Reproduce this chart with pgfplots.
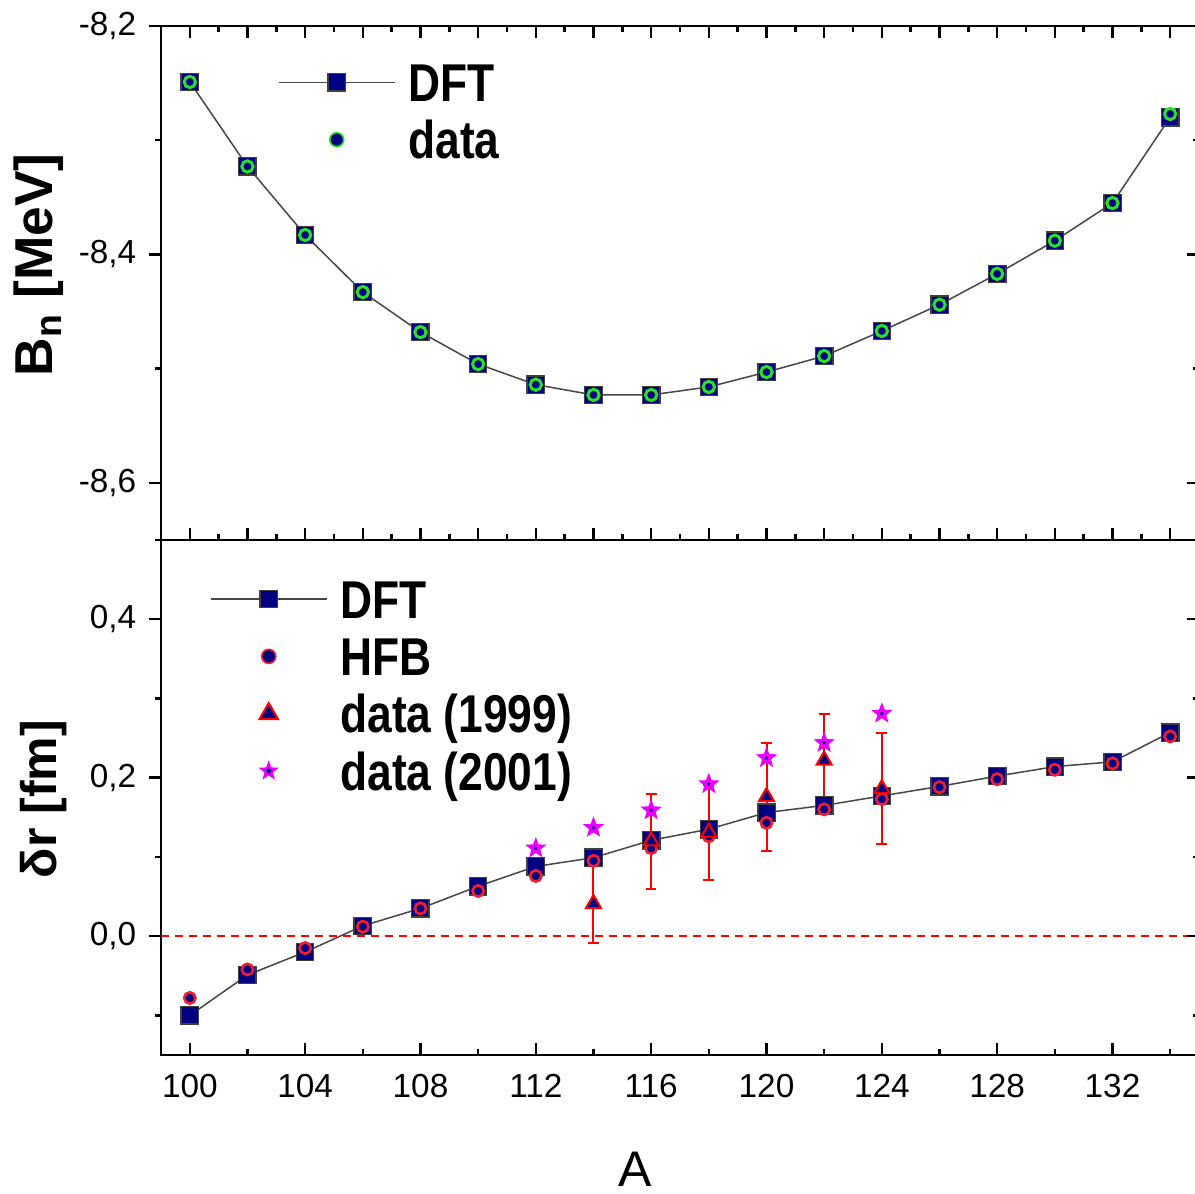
\documentclass[border=0pt]{standalone}
\usepackage{fontspec}
\setmainfont{Liberation Sans}
\usepackage{graphicx}
\usepackage{pgfplots}
\pgfplotsset{compat=1.18}

\definecolor{navyfill}{RGB}{0,0,128}
\definecolor{ringgreen}{RGB}{40,225,40}
\definecolor{ringred}{RGB}{240,30,50}
\definecolor{starmag}{RGB}{235,0,255}
\definecolor{linegray}{RGB}{70,70,70}

% filled five-pointed star
\pgfdeclareplotmark{fstar}{%
  \pgfpathmoveto{\pgfpointpolar{90}{\pgfplotmarksize}}%
  \pgfpathlineto{\pgfpointpolar{126}{0.42\pgfplotmarksize}}%
  \pgfpathlineto{\pgfpointpolar{162}{\pgfplotmarksize}}%
  \pgfpathlineto{\pgfpointpolar{198}{0.42\pgfplotmarksize}}%
  \pgfpathlineto{\pgfpointpolar{234}{\pgfplotmarksize}}%
  \pgfpathlineto{\pgfpointpolar{270}{0.42\pgfplotmarksize}}%
  \pgfpathlineto{\pgfpointpolar{306}{\pgfplotmarksize}}%
  \pgfpathlineto{\pgfpointpolar{342}{0.42\pgfplotmarksize}}%
  \pgfpathlineto{\pgfpointpolar{18}{\pgfplotmarksize}}%
  \pgfpathlineto{\pgfpointpolar{54}{0.42\pgfplotmarksize}}%
  \pgfpathclose
  \pgfusepathqfillstroke
}

\newcommand{\legtxt}[1]{\scalebox{1}[1.2]{#1}}

\pgfplotsset{
  panel/.style={
    scale only axis, width=311.4pt, xmin=99, xmax=135,
    axis line style={line width=0.8pt},
    every tick/.style={black, line width=0.75pt},
    major tick length=3.6pt, minor tick length=1.8pt,
    xtick align=inside, ytick align=outside, ytick pos=left,
    tick label style={font=\fontsize{10}{12}\selectfont},
    /pgf/number format/assume math mode=true,
    yticklabel style={xshift=-0.3pt},
    xticklabel style={yshift=-2.2pt},
    legend cell align=left,
    legend style={draw=none, fill=none, inner sep=0pt, outer sep=0pt,
      row sep=2.6pt, column sep=3.9pt,
      font=\fontsize{13.3}{16}\selectfont\bfseries,
      nodes={inner sep=0pt, text height=13pt, text depth=1.6pt}},
  },
  rightticks/.style={
    scale only axis, width=311.4pt, xmin=99, xmax=135,
    hide x axis, y axis line style={draw=none},
    every tick/.style={black, line width=0.75pt},
    major tick length=3.6pt, minor tick length=1.8pt,
    ytick pos=right, ytick align=inside, yticklabels={},
  },
  lineleg/.style={legend image code/.code={%
    \draw[mark repeat=2, mark phase=2, ##1] plot coordinates {(0pt,0pt) (17.4pt,0pt) (34.8pt,0pt)};}},
  % legend symbol drawn alone at the middle of the sample
  symleg/.style={legend image code/.code={%
    \draw[##1, #1] plot coordinates {(17.4pt,0pt)};}},
  dftstyle/.style={lineleg, color=linegray, line width=0.45pt, mark=square*, mark size=2.6pt,
    mark options={solid, fill=navyfill, draw=black!75, line width=0.4pt}},
}

\begin{document}
\begin{tikzpicture}
\path[use as bounding box] (-48.3pt,-41.7pt) rectangle (310.2pt,316.5pt);

% ---------------- upper panel: neutron binding energy ----------------
\begin{axis}[panel, at={(0pt,154.5pt)}, anchor=south west, height=154.2pt,
  ymin=-8.65, ymax=-8.2,
  xtick={100,102,...,134}, minor xtick={99,101,...,135}, xticklabels={},
  ytick={-8.6,-8.4,-8.2}, yticklabels={{-8,6},{-8,4},{-8,2}}, minor ytick={-8.5,-8.3},
  ylabel={\textbf{B\textsubscript{n} [MeV]}},
  ylabel style={font=\fontsize{16}{19}\selectfont, at={(axis description cs:-0.1175,0.535)}, anchor=center},
  legend style={at={(axis description cs:0.1127,0.8346)}, anchor=west},
]
\addplot[dftstyle] table {
A   Bn
100 -8.249
102 -8.323
104 -8.383
106 -8.433
108 -8.468
110 -8.496
112 -8.514
114 -8.523
116 -8.523
118 -8.516
120 -8.503
122 -8.489
124 -8.467
126 -8.444
128 -8.417
130 -8.388
132 -8.355
134 -8.280
};
\addlegendentry{\legtxt{DFT}}
\addplot[symleg={mark size=2.1pt, mark options={fill=navyfill, draw=ringgreen, line width=0.5pt}},
  only marks, mark=*, mark size=1.7pt,
  mark options={fill=navyfill, draw=ringgreen, line width=0.9pt}] table {
A   Bn
100 -8.249
102 -8.323
104 -8.383
106 -8.433
108 -8.468
110 -8.496
112 -8.514
114 -8.523
116 -8.523
118 -8.516
120 -8.503
122 -8.489
124 -8.467
126 -8.444
128 -8.417
130 -8.388
132 -8.355
134 -8.277
};
\addlegendentry{\legtxt{data}}
\end{axis}
\begin{axis}[rightticks, at={(0pt,154.5pt)}, anchor=south west, height=154.2pt,
  ymin=-8.65, ymax=-8.2, ytick={-8.6,-8.4,-8.2}, minor ytick={-8.5,-8.3}]
\end{axis}

% ---------------- lower panel: radius difference ----------------
\begin{axis}[panel, at={(0pt,0pt)}, anchor=south west, height=154.5pt,
  ymin=-0.15, ymax=0.5,
  xtick={100,104,...,132}, minor xtick={102,106,...,134}, xtick pos=bottom,
  ytick={0,0.2,0.4}, yticklabels={{0,0},{0,2},{0,4}}, minor ytick={-0.1,0.1,0.3,0.5},
  xlabel={A},
  xlabel style={font=\fontsize{15}{18}\selectfont, at={(axis description cs:0.4566,-0.2225)}, anchor=center},
  ylabel={\textbf{δr [fm]}},
  ylabel style={font=\fontsize{15}{18}\selectfont, at={(axis description cs:-0.1127,0.497)}, anchor=center},
  legend style={at={(axis description cs:0.0472,0.7184)}, anchor=west},
]
\addplot[forget plot, red, line width=0.5pt, dash pattern=on 2.4pt off 1.8pt] coordinates {(99,0) (135,0)};
\addplot[dftstyle] table {
A   dr
100 -0.100
102 -0.049
104 -0.020
106 0.013
108 0.035
110 0.063
112 0.088
114 0.099
116 0.121
118 0.135
120 0.156
122 0.165
124 0.177
126 0.189
128 0.202
130 0.214
132 0.220
134 0.257
};
\addlegendentry{\legtxt{DFT}}
\addplot[symleg={mark size=2.1pt, mark options={fill=navyfill, draw=ringred, line width=0.5pt}},
  only marks, mark=*, mark size=1.7pt,
  mark options={fill=navyfill, draw=ringred, line width=0.8pt}] table {
A   dr
100 -0.078
102 -0.042
104 -0.015
106 0.012
108 0.035
110 0.057
112 0.076
114 0.095
116 0.111
118 0.126
120 0.143
122 0.160
124 0.173
126 0.188
128 0.198
130 0.210
132 0.218
134 0.252
};
\addlegendentry{\legtxt{HFB}}
\addplot[symleg={mark size=3.2pt, mark options={fill=navyfill, draw=red, line width=0.6pt}},
  only marks, mark=triangle*, mark size=2.6pt,
  mark options={fill=navyfill, draw=red, line width=0.6pt},
  error bars/.cd, y dir=both, y explicit,
  error bar style={red, line width=0.6pt},
  error mark options={rotate=90, red, mark size=1.6pt, line width=0.6pt}]
  table[x=A, y=dr, y error=err] {
A   dr    err
114 0.041 0.050
116 0.120 0.060
118 0.131 0.060
120 0.176 0.068
122 0.222 0.058
124 0.186 0.070
};
\addlegendentry{\legtxt{data (1999)}}
\addplot[symleg={mark size=2.2pt, mark options={fill=navyfill, draw=starmag, line width=0.7pt}},
  only marks, mark=fstar, mark size=2.1pt,
  mark options={fill=navyfill, draw=starmag, line width=0.9pt}] table {
A   dr
112 0.111
114 0.137
116 0.159
118 0.192
120 0.225
122 0.244
124 0.281
};
\addlegendentry{\legtxt{data (2001)}}
\end{axis}
\begin{axis}[rightticks, at={(0pt,0pt)}, anchor=south west, height=154.5pt,
  ymin=-0.15, ymax=0.5, ytick={0,0.2,0.4}, minor ytick={-0.1,0.1,0.3,0.5}]
\end{axis}
\end{tikzpicture}
\end{document}
